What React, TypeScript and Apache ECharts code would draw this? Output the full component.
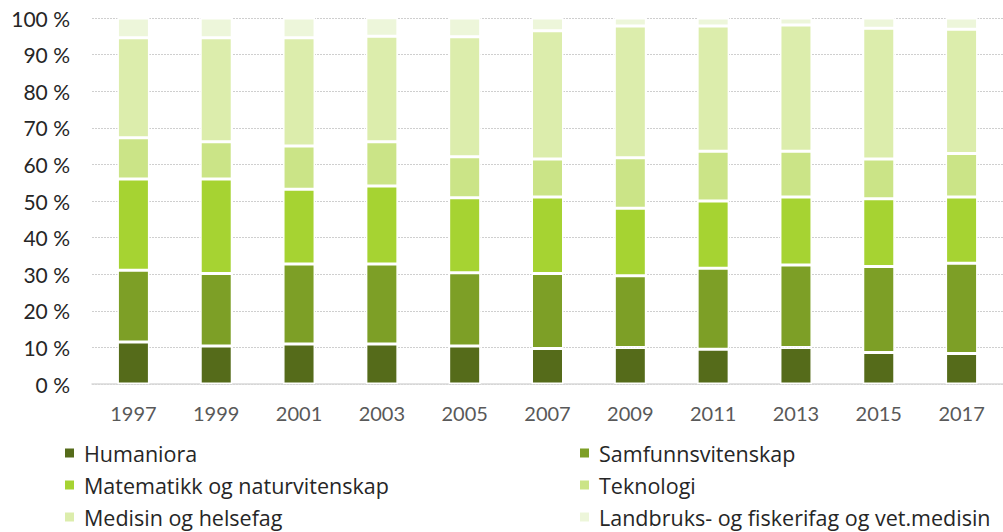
import React, { useEffect, useRef } from "react";
import * as echarts from "echarts";

const years = ["1997", "1999", "2001", "2003", "2005", "2007", "2009", "2011", "2013", "2015", "2017"];
const humaniora = [11.5, 10.4, 10.9, 10.9, 10.4, 9.7, 10.0, 9.5, 10.0, 8.6, 8.3];
const samfunn = [19.6, 19.8, 21.9, 21.9, 20.0, 20.5, 19.6, 22.1, 22.5, 23.5, 24.7];
const matematikk = [24.9, 25.8, 20.4, 21.3, 20.5, 20.9, 18.4, 18.4, 18.6, 18.5, 18.1];
const teknologi = [11.3, 10.2, 11.8, 12.1, 11.2, 10.4, 13.8, 13.6, 12.5, 10.9, 11.9];
const medisin = [27.3, 28.4, 29.6, 28.8, 32.8, 35.0, 36.0, 34.2, 34.5, 35.7, 33.9];
const landbruk = [5.4, 5.4, 5.4, 5.1, 5.1, 3.5, 2.2, 2.2, 1.9, 2.8, 3.1];
const yTicks = [0, 10, 20, 30, 40, 50, 60, 70, 80, 90, 100];

const names = [
  "Humaniora",
  "Samfunnsvitenskap",
  "Matematikk og naturvitenskap",
  "Teknologi",
  "Medisin og helsefag",
  "Landbruks- og fiskerifag og vet.medisin",
];
const colors = ["#556b1a", "#7d9f26", "#a6d332", "#cbe487", "#dcedac", "#edf6da"];
const values = [humaniora, samfunn, matematikk, teknologi, medisin, landbruk];

const FONT = "Lato";
const LEGEND_FONT = "Open Sans";

export default function App() {
  const ref = useRef<HTMLDivElement>(null);
  useEffect(() => {
    if (!ref.current) return;
    const chart = echarts.init(ref.current, undefined, { renderer: "svg" });
    const legendBase = {
      orient: "vertical" as const,
      top: 442,
      height: 200,
      padding: 0,
      icon: "rect",
      itemWidth: 11,
      itemHeight: 11,
      itemGap: 10,
      textStyle: {
        fontFamily: LEGEND_FONT,
        fontSize: 21.5,
        lineHeight: 20,
        color: "#262626",
        padding: [0, 0, 0, 4],
      },
    };
    chart.setOption({
      animation: false,
      color: colors,
      textStyle: { fontFamily: FONT },
      grid: { left: 92, top: 18, height: 366, width: 918 },
      legend: [
        { ...legendBase, left: 63, data: [names[0], names[2], names[4]] },
        { ...legendBase, left: 578, data: [names[1], names[3], names[5]] },
      ],
      xAxis: {
        type: "category",
        data: years,
        axisLine: { show: true, lineStyle: { color: "#d9d9d9", width: 1.5 } },
        axisTick: { show: false },
        axisLabel: { color: "#595959", fontSize: 20, fontFamily: FONT, margin: 19 },
      },
      yAxis: {
        type: "value",
        min: yTicks[0],
        max: yTicks[yTicks.length - 1],
        interval: 10,
        axisLine: { show: false },
        axisTick: { show: false },
        axisLabel: {
          formatter: "{value} %",
          color: "#262626",
          fontSize: 21,
          fontFamily: FONT,
          margin: 22,
        },
        splitLine: { lineStyle: { color: "#cfcfcf", type: [2, 1], width: 1 } },
      },
      series: values.map((v, i) => ({
        name: names[i],
        type: "bar",
        stack: "total",
        data: v,
        barWidth: 32,
        itemStyle: { color: colors[i], borderColor: "#ffffff", borderWidth: 1.5 },
      })),
    });
    return () => chart.dispose();
  }, []);
  return (
    <div
      ref={ref}
      style={{ position: "absolute", left: 0, top: 0, width: 1003, height: 532 }}
    />
  );
}
